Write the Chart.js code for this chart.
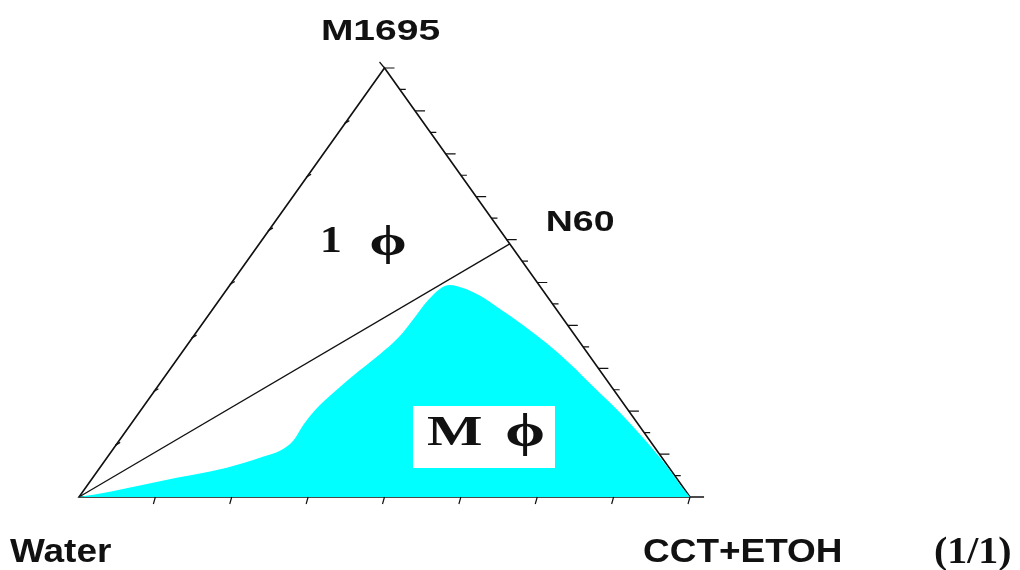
<!DOCTYPE html>
<html>
<head>
<meta charset="utf-8">
<script src="https://cdn.jsdelivr.net/npm/chart.js@4.4.0/dist/chart.umd.min.js"></script>
<style>
  html, body { margin: 0; padding: 0; background: #ffffff; }
  #wrap { width: 1020px; height: 570px; }
</style>
</head>
<body>
<div id="wrap"><canvas id="c" width="1020" height="570"></canvas></div>
<script>
// Ternary phase diagram: Water / M1695 / CCT+ETOH (1/1)
// Compositions are mass fractions; water is the remainder 1 - M1695 - CCT+ETOH.

const vertexNames = ['Water', 'M1695', 'CCT+ETOH'];
const oilRatioLabel = '(1/1)';
const tieLineName = 'N60';
const regionNames = ['1 \u03D5', 'M \u03D5'];

// end of the dilution line on the M1695 / CCT+ETOH edge
const tieLineM1695 = 0.59;
const tieLineCCT = 0.41;

// boundary of the multiphase (M phi) region, from the water corner to the oil corner
const mPhaseM1695 = [0, 0.005, 0.037, 0.068, 0.093, 0.110, 0.131, 0.168, 0.203, 0.247, 0.296, 0.333, 0.371, 0.413, 0.459, 0.485, 0.494,
                     0.487, 0.469, 0.438, 0.401, 0.357, 0.310, 0.254, 0.196, 0.133, 0.072, 0.030, 0];
const mPhaseCCT   = [0, 0.021, 0.114, 0.208, 0.253, 0.277, 0.285, 0.283, 0.285, 0.296, 0.312, 0.326, 0.337, 0.340, 0.342, 0.348, 0.360,
                     0.385, 0.422, 0.470, 0.526, 0.588, 0.649, 0.717, 0.788, 0.860, 0.926, 0.968, 1];

// tick divisions on each edge
const baseDivisions = 8;    // Water -> CCT+ETOH
const leftDivisions = 8;    // Water -> M1695
const rightDivisions = 20;  // M1695 -> CCT+ETOH (long tick every second)

// ternary (M1695, CCT+ETOH) -> cartesian point of the drawing plane
function tern(m, c) { return { x: c + m / 2, y: m }; }

const mPhasePoints = mPhaseM1695.map((m, i) => tern(m, mPhaseCCT[i]));
const tieLine = [tern(0, 0), tern(tieLineM1695, tieLineCCT)];
const frame = [{ x: 1.023, y: 0 }, tern(0, 0), tern(1, 0), tern(0, 1)];

function drawStretched(ctx, text, x, y, font, sx, align) {
  ctx.save();
  ctx.font = font;
  const w = ctx.measureText(text).width * sx;
  let left = x;
  if (align === 'center') left = x - w / 2;
  else if (align === 'right') left = x - w;
  ctx.translate(left, y);
  ctx.scale(sx, 1);
  ctx.textAlign = 'left';
  ctx.textBaseline = 'alphabetic';
  ctx.fillText(text, 0, 0);
  ctx.restore();
}

const ternaryDecor = {
  id: 'ternaryDecor',
  afterDatasetsDraw(chart) {
    const { ctx, scales: { x: sx, y: sy } } = chart;
    const px = p => ({ X: sx.getPixelForValue(p.x), Y: sy.getPixelForValue(p.y) });
    const W = px(tern(0, 0)), O = px(tern(0, 1)), M = px(tern(1, 0));

    ctx.save();
    ctx.strokeStyle = '#111';
    ctx.lineWidth = 1.2;
    ctx.beginPath();
    // base ticks, slanting down
    for (let i = 1; i <= baseDivisions; i++) {
      const p = px(tern(0, i / baseDivisions));
      ctx.moveTo(p.X, p.Y);
      ctx.lineTo(p.X - 2, p.Y + 7);
    }
    // left edge ticks
    for (let i = 1; i < leftDivisions; i++) {
      const p = px(tern(i / leftDivisions, 0));
      ctx.moveTo(p.X - 2, p.Y + 2);
      ctx.lineTo(p.X + 3, p.Y - 1);
    }
    // right edge ticks, horizontal, long every second
    for (let i = 0; i < rightDivisions; i++) {
      const m = 1 - i / rightDivisions;
      const p = px(tern(m, 1 - m));
      const len = (i % 2 === 0) ? 10 : 6;
      ctx.moveTo(p.X, p.Y);
      ctx.lineTo(p.X + len, p.Y);
    }
    // small overshoot of the left edge above the apex
    ctx.moveTo(M.X, M.Y);
    ctx.lineTo(M.X - 5, M.Y - 6);
    ctx.stroke();
    ctx.restore();

    ctx.save();
    ctx.fillStyle = '#111';
    const sans = 'bold 30px "Liberation Sans", Arial, sans-serif';
    const sansBig = 'bold 33px "Liberation Sans", Arial, sans-serif';
    drawStretched(ctx, vertexNames[1], M.X - 4, M.Y - 28, sans, 1.3, 'center');
    const n = px(tern(tieLineM1695, tieLineCCT));
    drawStretched(ctx, tieLineName, n.X + 36, n.Y - 13, sans, 1.25, 'left');
    drawStretched(ctx, vertexNames[0], W.X - 69, W.Y + 65, sansBig, 1.12, 'left');
    drawStretched(ctx, vertexNames[2], O.X - 47, O.Y + 65, sansBig, 1.12, 'left');
    drawStretched(ctx, oilRatioLabel, 934, O.Y + 66, 'bold 38px "Liberation Serif", "Times New Roman", serif', 1.05, 'left');

    // single-phase region label
    const serif = 'bold 38px "Liberation Serif", "Times New Roman", serif';
    const oneParts = regionNames[0].split(' ');
    drawStretched(ctx, oneParts[0], 320, 252, serif, 1.15, 'left');
    drawStretched(ctx, oneParts[1], 388, 255, 'bold 43px "Liberation Serif", "Times New Roman", serif', 1.4, 'center');

    // multiphase region label on a white plate
    ctx.fillStyle = '#ffffff';
    ctx.fillRect(413, 406, 142, 62);
    ctx.fillStyle = '#111';
    const mParts = regionNames[1].split(' ');
    drawStretched(ctx, mParts[0], 427, 445, 'bold 42px "Liberation Serif", "Times New Roman", serif', 1.4, 'left');
    drawStretched(ctx, mParts[1], 525, 446, 'bold 46px "Liberation Serif", "Times New Roman", serif', 1.4, 'center');
    ctx.restore();
  }
};

new Chart(document.getElementById('c'), {
  type: 'scatter',
  data: {
    datasets: [
      {
        label: 'M \u03D5',
        data: mPhasePoints,
        showLine: true,
        fill: 'origin',
        backgroundColor: '#00ffff',
        borderColor: '#00ffff',
        borderWidth: 0,
        pointRadius: 0,
        cubicInterpolationMode: 'monotone'
      },
      {
        label: tieLineName,
        data: tieLine,
        showLine: true,
        fill: false,
        borderColor: '#111',
        borderWidth: 1.3,
        pointRadius: 0
      },
      {
        label: 'frame',
        data: frame,
        showLine: true,
        fill: false,
        borderColor: '#111',
        borderWidth: 1.6,
        pointRadius: 0
      }
    ]
  },
  options: {
    responsive: false,
    animation: false,
    layout: { padding: 0 },
    plugins: { legend: { display: false }, tooltip: { enabled: false } },
    scales: {
      x: { type: 'linear', display: false, min: -79 / 611, max: (1020 - 79) / 611 },
      y: { type: 'linear', display: false, min: -73 / 429, max: 497 / 429 }
    }
  },
  plugins: [ternaryDecor]
});
</script>
</body>
</html>
